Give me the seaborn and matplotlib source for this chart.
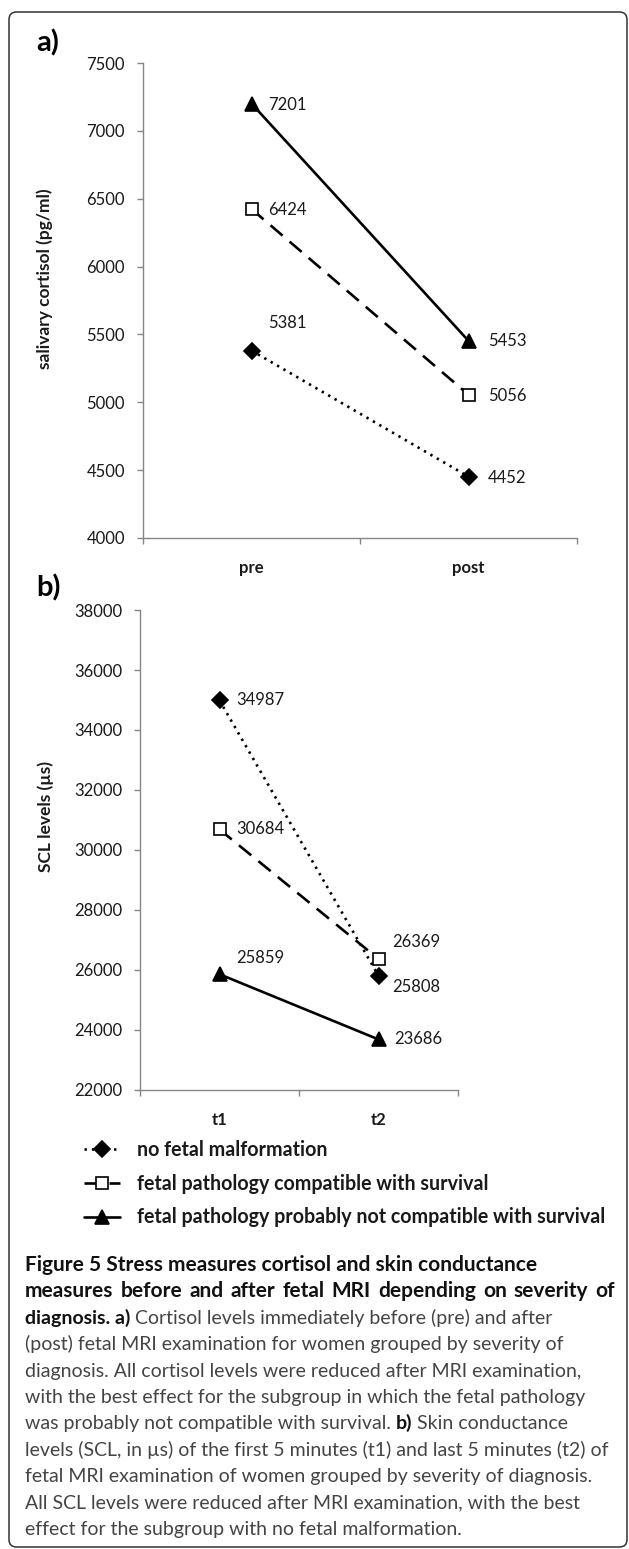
import matplotlib
matplotlib.use("Agg")
import pandas as pd
import matplotlib.pyplot as plt
import seaborn as sns
from matplotlib.lines import Line2D
from matplotlib.patches import FancyBboxPatch

sns.set_theme(style="white")
plt.rcParams['font.family'] = ['Lato', 'DejaVu Sans']

# data
groups = ['no fetal malformation',
          'fetal pathology compatible with survival',
          'fetal pathology probably not compatible with survival']
cortisol_times = ['pre', 'post']
cortisol_pre = [5381, 6424, 7201]
cortisol_post = [4452, 5056, 5453]
cortisol_ticks = [4000, 4500, 5000, 5500, 6000, 6500, 7000, 7500]

scl_times = ['t1', 't2']
scl_t1 = [34987, 30684, 25859]
scl_t2 = [25808, 26369, 23686]
scl_ticks = [22000, 24000, 26000, 28000, 30000, 32000, 34000, 36000, 38000]

W, H = 629, 1549
DARK = '#1a1a1a'
AXC = '#868686'

styles = {
    groups[0]: dict(marker='D', linestyle=(0, (0.9, 1.9)), markerfacecolor='black', markersize=8),
    groups[1]: dict(marker='s', linestyle=(0, (6, 3.5)), markerfacecolor='white', markersize=8.5),
    groups[2]: dict(marker='^', linestyle='-', markerfacecolor='black', markersize=9.5),
}


def long_frame(times, first, second):
    rows = []
    for g, a, b in zip(groups, first, second):
        rows.append((g, times[0], a))
        rows.append((g, times[1], b))
    df = pd.DataFrame(rows, columns=['group', 'time', 'value'])
    df['pos'] = df['time'].map({t: i for i, t in enumerate(times)})
    return df


def px_axes(left, top, right, bottom):
    return [left / W, 1 - bottom / H, (right - left) / W, (bottom - top) / H]


fig = plt.figure(figsize=(W / 100, H / 100), dpi=100)

# outer rounded frame
frame = FancyBboxPatch((9 / W, 1 - 1547 / H), 618 / W, 1535 / H,
                       boxstyle="round,pad=0,rounding_size=0.012",
                       transform=fig.transFigure, fill=False,
                       edgecolor='#333333', linewidth=1.1, mutation_aspect=W / H)
fig.patches.append(frame)


def draw_panel(ax, times, first, second, ticks, ylabel, label_offsets, label_xy):
    df = long_frame(times, first, second)
    for g in groups:
        sub = df[df['group'] == g]
        sns.lineplot(data=sub, x='pos', y='value', ax=ax, color='black', lw=1.9,
                     markeredgecolor='black', markeredgewidth=1.2, sort=False,
                     legend=False, **styles[g])
        for _, r in sub.iterrows():
            dx, dy = label_offsets[(g, r['time'])]
            ax.annotate(f"{int(r['value'])}", (r['pos'], r['value']),
                        xytext=(dx, dy), textcoords='offset points',
                        ha='left', va='center', fontsize=12, color=DARK)
    ax.set_xlim(-0.5, 1.5)
    ax.set_ylim(ticks[0], ticks[-1])
    ax.set_yticks(ticks)
    ax.set_xticks(range(len(times)), labels=times)
    ax.set_xticks([-0.5, 0.5, 1.5], minor=True)
    for lab in ax.get_xticklabels():
        lab.set_fontweight('bold')
    ax.tick_params(axis='x', which='major', length=0, pad=16, labelsize=12, labelcolor=DARK)
    ax.tick_params(axis='x', which='minor', length=4, width=1, color=AXC, direction='out', bottom=True)
    ax.tick_params(axis='y', length=4, width=1, color=AXC, direction='out', left=True,
                   pad=9, labelsize=12, labelcolor=DARK)
    sns.despine(ax=ax)
    for s in ['left', 'bottom']:
        ax.spines[s].set_color(AXC)
        ax.spines[s].set_linewidth(1)
    ax.set_xlabel('')
    ax.set_ylabel(ylabel, fontsize=12.5, fontweight='bold', color=DARK)
    ax.yaxis.set_label_coords(*label_xy)


ax_a = fig.add_axes(px_axes(143, 63, 577, 538))
off_a = {
    (groups[2], 'pre'): (12, -1), (groups[1], 'pre'): (12, -1), (groups[0], 'pre'): (12, 20),
    (groups[2], 'post'): (14, 0), (groups[1], 'post'): (14, -1), (groups[0], 'post'): (14, -1),
}
draw_panel(ax_a, cortisol_times, cortisol_pre, cortisol_post, cortisol_ticks,
           'salivary cortisol (pg/ml)', off_a, (-0.207, 0.545))

ax_b = fig.add_axes(px_axes(140, 610, 458, 1090))
off_b = {
    (groups[0], 't1'): (12, 0), (groups[1], 't1'): (12, 0), (groups[2], 't1'): (12, 12),
    (groups[0], 't2'): (10, -8), (groups[1], 't2'): (10, 12), (groups[2], 't2'): (11, 0),
}
draw_panel(ax_b, scl_times, scl_t1, scl_t2, scl_ticks,
           'SCL levels (µs)', off_b, (-0.272, 0.57))

fig.text(36 / W, 1 - 43 / H, 'a)', fontsize=21, fontweight='bold', va='center', color='black')
fig.text(36 / W, 1 - 588 / H, 'b)', fontsize=21, fontweight='bold', va='center', color='black')

# legend below panel b
handles = [Line2D([], [], color='black', lw=1.9, markeredgecolor='black',
                  markeredgewidth=1.2, **styles[g]) for g in groups]
fig.legend(handles, groups, loc='upper left', bbox_to_anchor=(84 / W, 1 - 1140 / H),
           frameon=False, prop=dict(weight='bold', size=14.1), handlelength=1.85,
           handletextpad=0.85, labelspacing=0.7, borderpad=0, borderaxespad=0,
           labelcolor=DARK)

# caption
caption = [
    [("Figure 5 Stress measures cortisol and skin conductance", 'bold')],
    [("measures before and after fetal MRI depending on severity of", 'bold')],
    [("diagnosis. a)", 'bold'), (" Cortisol levels immediately before (pre) and after", 'normal')],
    [("(post) fetal MRI examination for women grouped by severity of", 'normal')],
    [("diagnosis. All cortisol levels were reduced after MRI examination,", 'normal')],
    [("with the best effect for the subgroup in which the fetal pathology", 'normal')],
    [("was probably not compatible with survival. ", 'normal'), ("b)", 'bold'), (" Skin conductance", 'normal')],
    [("levels (SCL, in µs) of the first 5 minutes (t1) and last 5 minutes (t2) of", 'normal')],
    [("fetal MRI examination of women grouped by severity of diagnosis.", 'normal')],
    [("All SCL levels were reduced after MRI examination, with the best", 'normal')],
    [("effect for the subgroup with no fetal malformation.", 'normal')],
]
justified = {1: 615}
renderer = fig.canvas.get_renderer()


def cap_props(wt, idx):
    size = 15.0 if idx < 2 else 14.0
    color = '#111111' if wt == 'bold' else '#444444'
    return dict(fontsize=size, fontweight=wt, color=color, ha='left', va='baseline')


for i, line in enumerate(caption):
    y = 1 - (1271 + i * 26.4) / H
    x = 25 / W
    if i in justified:
        words = line[0][0].split()
        arts = [fig.text(0, y, w, **cap_props(line[0][1], i)) for w in words]
        widths = [a.get_window_extent(renderer).width for a in arts]
        gap = (justified[i] - 25 - sum(widths)) / (len(words) - 1)
        xp = 25
        for a, wd in zip(arts, widths):
            a.set_x(xp / W)
            xp += wd + gap
        continue
    for txt, wt in line:
        t = fig.text(x, y, txt, **cap_props(wt, i))
        bb = t.get_window_extent(renderer)
        x = bb.x1 / W

fig.savefig('out.png', dpi=100)
